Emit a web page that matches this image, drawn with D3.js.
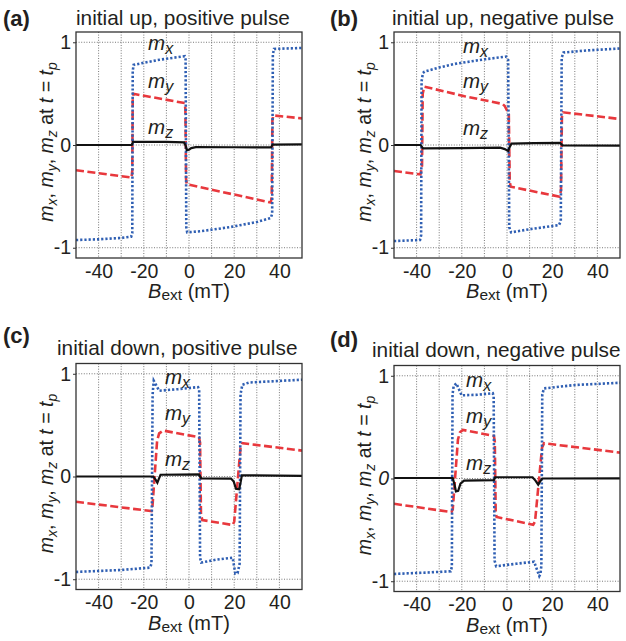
<!DOCTYPE html>
<html>
<head>
<meta charset="utf-8">
<script src="https://cdn.jsdelivr.net/npm/d3@7"></script>
<style>
  body { margin: 0; background: #fff; }
  text { font-family: "Liberation Sans", Arial, Helvetica, sans-serif; fill: #231f20; }
</style>
</head>
<body>
<main></main>
<script>
// [B (mT), m] pairs
const aMx = [[-50,-0.925],[-40,-0.918],[-30,-0.905],[-25.6,-0.893],[-25.1,-0.86],[-24.9,0.72],[-24.5,0.78],[-20,0.80],[-13,0.83],[-5,0.855],[-1.9,0.864],[-1.5,0.83],[-1.2,-0.80],[-0.8,-0.85],[5,-0.84],[18,-0.80],[30,-0.75],[36.2,-0.71],[36.8,-0.67],[37.1,0.88],[37.6,0.935],[50,0.945]];
const aMy = [[-50,-0.246],[-25.4,-0.317],[-25.1,-0.25],[-24.9,0.45],[-24.6,0.498],[-1.9,0.408],[-1.6,0.35],[-1.3,-0.33],[-1.0,-0.382],[36.2,-0.56],[36.6,-0.50],[36.9,0.24],[37.3,0.288],[50,0.259]];
const aMz = [[-50,0],[-25.3,0.002],[-24.8,0.03],[-10,0.03],[-2.2,0.025],[-1.4,-0.01],[-1.0,-0.05],[0,-0.045],[1,-0.03],[3,-0.02],[20,-0.022],[36.3,-0.024],[37.0,0.004],[50,0.006]];

const bMx = [[-50,-0.935],[-38.5,-0.925],[-38,-0.88],[-37.8,0.62],[-37.2,0.70],[-36.5,0.714],[-30,0.755],[-23,0.79],[-10,0.834],[-0.4,0.86],[0.5,0.83],[1.0,-0.80],[1.8,-0.85],[10,-0.82],[23,-0.78],[23.8,-0.74],[24.2,0.85],[25,0.90],[35,0.92],[50,0.94]];
const bMy = [[-50,-0.253],[-38.3,-0.286],[-37.6,-0.2],[-37.3,0.5],[-36.6,0.568],[-18.8,0.475],[-2,0.40],[-1.0,0.38],[0.8,0.3],[1.2,-0.35],[1.6,-0.406],[23.3,-0.503],[23.9,-0.44],[24.3,0.27],[24.8,0.318],[50,0.253]];
const bMz = [[-50,0],[-38.2,0],[-37.2,-0.032],[-20,-0.03],[-3,-0.026],[-1,-0.04],[0.5,-0.058],[1.2,-0.02],[2,0.014],[12,0.018],[23.5,0.02],[24.6,-0.004],[50,-0.006]];

const cMx = [[-50,-0.929],[-30,-0.91],[-17.3,-0.887],[-16.6,-0.85],[-16.1,0.8],[-15.6,0.932],[-13.2,0.835],[-5,0.85],[4,0.87],[4.5,0.84],[4.9,-0.79],[5.4,-0.838],[12,-0.81],[19.3,-0.79],[20.5,-0.945],[21.5,-0.94],[22.4,-0.85],[22.8,0.80],[23.6,0.893],[26.6,0.915],[50,0.942]];
const cMy = [[-50,-0.246],[-16.6,-0.337],[-16.2,-0.30],[-14.1,0.35],[-13.2,0.42],[-11.4,0.447],[4.4,0.382],[4.9,0.33],[5.3,-0.37],[5.9,-0.424],[19.3,-0.472],[20,-0.44],[22.8,0.28],[23.6,0.324],[50,0.252]];
const cMz = [[-50,0],[-15.8,0],[-14.8,-0.03],[-14,-0.06],[-13.3,-0.02],[-12.6,0.017],[4.4,0.02],[5.4,-0.018],[18.6,-0.02],[19.8,-0.05],[20.8,-0.12],[22.2,-0.125],[22.9,-0.05],[23.4,0.012],[50,0.006]];

const dMx = [[-50,-0.929],[-35,-0.915],[-24.9,-0.903],[-24.4,-0.86],[-24.1,0.82],[-23.6,0.90],[-22.4,0.926],[-20.1,0.81],[-13,0.815],[-6.3,0.83],[-5.9,0.80],[-5.5,-0.80],[-4.8,-0.854],[4,-0.83],[12,-0.81],[14.3,-0.95],[14.8,-0.93],[15.2,-0.85],[15.6,0.82],[16.4,0.877],[30,0.91],[50,0.932]];
const dMy = [[-50,-0.246],[-24.6,-0.327],[-24.0,-0.30],[-21.7,0.38],[-20.8,0.45],[-19.5,0.473],[-5.8,0.414],[-5.4,0.36],[-5.0,-0.33],[-4.6,-0.375],[11.6,-0.45],[12.4,-0.42],[15.5,0.30],[16.4,0.343],[50,0.252]];
const dMz = [[-50,0.005],[-24,0.005],[-23.2,-0.06],[-22.6,-0.125],[-21.6,-0.12],[-20.6,-0.05],[-19,-0.02],[-5.8,-0.015],[-5.2,0.012],[11.3,0.012],[12.6,-0.02],[13.8,-0.06],[14.6,-0.03],[15.6,0],[50,0.002]];

const letters = ['(a)', '(b)', '(c)', '(d)'];
const titles = ['initial up, positive pulse', 'initial up, negative pulse', 'initial down, positive pulse', 'initial down, negative pulse'];
const xTicks = [-40, -20, 0, 20, 40];
const xGrid = [-40, -30, -20, -10, 0, 10, 20, 30, 40];
const yTicks = [-1, 0, 1];
// label anchors [B, m] for m_x, m_y, m_z
const labelPos = [
  [[-18.1, 0.925], [-18.1, 0.556], [-18.1, 0.11]],
  [[-19.5, 0.896], [-19.5, 0.556], [-19.5, 0.10]],
  [[-10.6, 0.898], [-10.6, 0.549], [-10.6, 0.102]],
  [[-18.1, 0.893], [-18.1, 0.541], [-18.1, 0.084]]
];

const panels = [
  {mx: aMx, my: aMy, mz: aMz, left: 76, top: 32, letterX: 3, letterY: 26, titleX: 76, titleY: 25},
  {mx: bMx, my: bMy, mz: bMz, left: 394, top: 32, letterX: 330, letterY: 26, titleX: 392, titleY: 25},
  {mx: cMx, my: cMy, mz: cMz, left: 76, top: 363.5, letterX: 3, letterY: 343, titleX: 57, titleY: 355},
  {mx: dMx, my: dMy, mz: dMz, left: 394, top: 365.5, letterX: 330, letterY: 347, titleX: 372, titleY: 357}
];

const W = 626, H = 641, pw = 226, ph = 226;
const svg = d3.select('main').append('svg').attr('width', W).attr('height', H);

panels.forEach((p, i) => {
  const x = d3.scaleLinear().domain([-50, 50]).range([0, pw]);
  const y = d3.scaleLinear().domain([-1.1, 1.1]).range([ph, 0]);
  const g = svg.append('g').attr('transform', `translate(${p.left},${p.top})`);

  // grid
  g.selectAll('.vg').data(xGrid).enter().append('line')
    .attr('x1', d => x(d)).attr('x2', d => x(d)).attr('y1', 0).attr('y2', ph)
    .attr('stroke', '#555').attr('stroke-width', 0.8).attr('stroke-dasharray', '1,1.6');
  g.selectAll('.hg').data(yTicks).enter().append('line')
    .attr('x1', 0).attr('x2', pw).attr('y1', d => y(d)).attr('y2', d => y(d))
    .attr('stroke', '#555').attr('stroke-width', 0.8).attr('stroke-dasharray', '1,1.6');

  const clip = 'clip' + i;
  g.append('clipPath').attr('id', clip).append('rect').attr('width', pw).attr('height', ph);
  const line = d3.line().x(d => x(d[0])).y(d => y(d[1]));
  const lines = g.append('g').attr('clip-path', `url(#${clip})`);
  lines.append('path').attr('d', line(p.my)).attr('fill', 'none')
    .attr('stroke', '#e8383d').attr('stroke-width', 2.6).attr('stroke-dasharray', '8,3.5');
  lines.append('path').attr('d', line(p.mx)).attr('fill', 'none')
    .attr('stroke', '#2f5fb3').attr('stroke-width', 2.6).attr('stroke-dasharray', '2.2,2');
  lines.append('path').attr('d', line(p.mz)).attr('fill', 'none')
    .attr('stroke', '#111').attr('stroke-width', 2.2);

  // frame
  g.append('rect').attr('width', pw).attr('height', ph).attr('fill', 'none')
    .attr('stroke', '#333').attr('stroke-width', 1.3);

  // axes
  const xa = g.append('g').attr('transform', `translate(0,${ph})`)
    .call(d3.axisBottom(x).tickValues(xTicks).tickSize(0).tickPadding(6).tickFormat(d => String(d)));
  xa.select('.domain').remove();
  xa.selectAll('text').attr('font-size', 19.5).attr('font-family', null);
  const ya = g.append('g')
    .call(d3.axisLeft(y).tickValues(yTicks).tickSize(3).tickPadding(2).tickFormat(d => String(d)));
  ya.select('.domain').remove();
  ya.selectAll('line').attr('stroke', '#333');
  ya.selectAll('text').attr('font-size', 19.5).attr('font-family', null)
    .attr('font-style', d => (i === 3 && d === 0) ? 'italic' : null);

  // x label
  const xl = g.append('text').attr('x', pw / 2).attr('y', ph + 40).attr('text-anchor', 'middle').attr('font-size', 20);
  xl.append('tspan').attr('font-style', 'italic').text('B');
  xl.append('tspan').attr('font-size', 15.5).attr('dy', 2).text('ext');
  xl.append('tspan').attr('dy', -2).text(' (mT)');

  // y label
  const yl = g.append('text').attr('transform', `translate(-23,${ph / 2 - 3}) rotate(-90)`)
    .attr('text-anchor', 'middle').attr('font-size', 19.5);
  const sub = (base, s, after) => {
    yl.append('tspan').attr('font-style', 'italic').text(base);
    yl.append('tspan').attr('font-style', 'italic').attr('font-size', 14).attr('dy', 4).text(s);
    yl.append('tspan').attr('dy', -4).text(after);
  };
  sub('m', 'x', ', ');
  sub('m', 'y', ', ');
  sub('m', 'z', ' at ');
  yl.append('tspan').attr('font-style', 'italic').text('t');
  yl.append('tspan').text(' = ');
  sub('t', 'p', '');

  // curve labels
  ['x', 'y', 'z'].forEach((s, k) => {
    const [bx, by] = labelPos[i][k];
    const t = g.append('text').attr('x', x(bx)).attr('y', y(by)).attr('font-size', 20.5).attr('font-style', 'italic');
    t.append('tspan').text('m');
    t.append('tspan').attr('font-size', 16).attr('dy', 4).text(s);
  });

  // panel letter and title
  svg.append('text').attr('x', p.letterX).attr('y', p.letterY).attr('font-size', 22).attr('font-weight', 'bold').text(letters[i]);
  svg.append('text').attr('x', p.titleX).attr('y', p.titleY).attr('font-size', 20.8).text(titles[i]);
});
</script>
</body>
</html>
